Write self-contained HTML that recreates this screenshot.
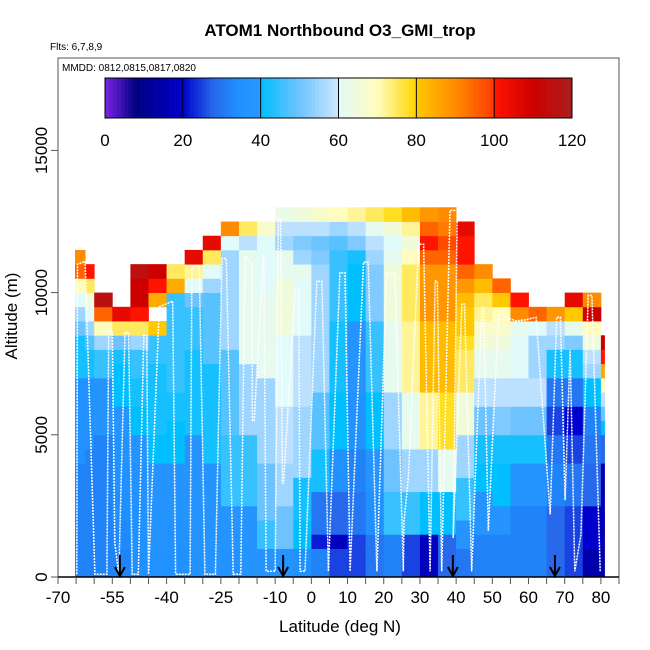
<!DOCTYPE html>
<html><head><meta charset="utf-8"><style>
body{margin:0;background:#fff;}
svg{display:block;font-family:"Liberation Sans",Arial,sans-serif;}
</style></head><body>
<svg id="chart" width="650" height="650" viewBox="0 0 650 650">
<text x="340" y="36" text-anchor="middle" font-size="17" font-weight="bold">ATOM1 Northbound O3_GMI_trop</text>
<text x="50" y="50" font-size="10">Flts: 6,7,8,9</text>
<g id="cells"></g>
<g id="track"></g>
<g id="arrows"></g>
<rect x="58" y="58" width="561" height="519" fill="none" stroke="#555" stroke-width="1"/>
<line x1="58" y1="577" x2="619" y2="577" stroke="#000" stroke-width="1.5"/>
<text x="62" y="71" font-size="10">MMDD: 0812,0815,0817,0820</text>
<g id="cbar"></g>
<g id="xaxis"></g>
<g id="yaxis"></g>
<text x="340" y="632" text-anchor="middle" font-size="17">Latitude (deg N)</text>
<text x="0" y="0" transform="translate(17,316) rotate(-90)" text-anchor="middle" font-size="17">Altitude (m)</text>
</svg>
<script>
const latEdges=[-65.3,-62.5,-60,-55,-50,-45,-40,-35,-30,-25,-20,-15,-10,-5,0,5,10,15,20,25,30,35,40,45,50,55,60,65,70,75,80,81];
const altStep=500;
const profiles=[
[32,32,32,32,32,32,32,32,36,36,36,36,36,36,42,42,42,50,55,60,70,95,90],
[32,32,32,32,32,32,32,32,32,36,36,36,36,36,42,42,48,55,60,65,75,100],
[32,32,32,32,32,32,32,32,32,32,38,38,38,38,45,45,55,70,95,115],
[32,32,33,33,34,34,35,35,36,36,38,38,40,40,40,42,50,75,105],
[34,34,35,35,35,36,36,36,38,38,40,40,42,42,45,45,55,75,100,110,110,115],
[36,36,37,37,38,38,38,38,40,40,42,42,42,42,42,45,45,80,null,85,100,110],
[35,35,36,36,38,38,38,38,40,40,40,42,42,45,45,45,45,45,45,45,85,75],
[36,36,37,37,38,38,38,38,38,38,42,42,42,42,42,42,45,45,45,50,60,72,105],
[37,37,38,38,38,38,38,38,42,42,42,42,42,42,42,48,48,48,48,48,55,60,75,105],
[36,36,38,38,38,45,45,45,45,45,48,48,48,48,48,48,55,55,55,55,55,55,55,60,90],
[38,38,38,38,38,45,45,45,45,45,55,55,55,55,55,62,62,62,62,62,62,62,62,58,75],
[38,38,45,45,50,50,50,50,55,55,55,55,55,55,62,62,62,62,62,62,60,60,60,60,68],
[38,38,50,50,50,55,55,55,58,58,58,58,60,60,60,60,60,65,65,65,65,62,62,55,58,63],
[35,35,40,40,42,42,42,55,55,55,55,55,58,58,58,58,58,60,60,60,60,62,55,52,58,65],
[32,32,22,30,30,30,42,42,42,48,48,48,48,55,55,55,55,55,55,55,55,55,52,50,58,68],
[25,25,18,28,28,28,35,35,35,40,40,40,40,42,42,42,42,42,45,45,45,45,45,48,55,70],
[25,25,25,30,30,30,32,32,32,36,36,36,36,38,38,38,38,38,40,40,40,40,42,52,58,72],
[30,30,30,35,35,35,38,38,38,40,40,40,40,45,45,45,45,45,52,52,52,52,55,58,62,75],
[32,32,32,45,45,45,50,50,50,55,55,55,55,62,62,62,62,62,65,65,65,65,62,60,65,78],
[25,25,25,45,45,45,55,55,55,62,62,62,62,72,72,72,72,72,75,75,75,75,70,65,72,82],
[18,18,18,40,40,40,55,55,55,72,72,72,72,82,82,82,82,82,88,88,88,88,95,100,95,88],
[28,28,28,40,40,40,62,62,62,78,78,78,78,82,82,82,82,82,88,88,88,88,95,98,92,90],
[30,30,38,38,45,45,45,55,55,55,65,65,65,75,75,75,78,80,80,82,88,95,100,100,105],
[32,32,32,38,38,38,40,40,42,42,50,50,58,58,62,62,66,68,72,75,82,90],
[32,32,32,38,38,40,40,40,42,42,52,52,58,58,62,62,65,68,70,80,95],
[32,32,32,32,32,38,38,38,42,42,50,50,58,58,60,60,60,62,90,100],
[32,32,32,32,32,38,38,38,42,42,50,50,58,58,55,55,55,60,95],
[28,28,28,28,28,32,32,32,30,30,25,25,30,30,42,42,55,58,88],
[25,25,25,25,25,30,30,30,25,25,20,20,30,30,42,42,52,62,80,105],
[15,15,20,20,20,28,28,28,30,30,32,32,40,40,55,58,65,70,110,90],
[15,15,15,15,15,15,15,15,28,28,40,50,58,70,85,100,110]
];
const trackLat=[-64.8,-64.6,-62.5,-59.8,-56.5,-56,-55,-54.3,-53.2,-51.5,-50.5,-49.5,-47.8,-46.3,-45.5,-45,-42,-38.3,-37.5,-33.5,-33,-31,-29.4,-26.5,-24.7,-23.5,-21.6,-19.5,-18.3,-16.4,-16.3,-15.8,-13.3,-13.1,-12.5,-10,-9.1,-8.5,-8,-7.7,-4.5,-3.5,-3.1,-1.75,1.5,2.9,4.7,7.9,9.3,10.7,14.4,15.7,18.1,20.8,23.1,25.4,25.6,26.8,29.6,31,32.8,34.2,34.8,36,38.3,40.3,39.2,41.6,42.3,44.3,47.1,47.6,48.9,51.7,56.5,59.5,62.1,66,67.8,68.8,70.1,71.5,72.8,74.5,76.5,77.5,79.8];
const trackAlt=[100,11000,11100,100,100,8700,8600,1200,100,8600,8600,100,100,8500,8500,100,9500,9700,100,100,10900,10950,100,100,11200,11200,100,100,11300,11000,5500,5500,11300,11300,200,200,12600,12600,3300,3300,10100,10100,200,200,10400,10400,200,10700,10700,200,11070,11070,200,10700,10700,200,1970,3500,11700,11700,200,10400,10400,200,12890,12890,1370,9600,9600,200,9480,9480,1620,9250,9000,9050,9130,2200,9130,9130,2700,8000,200,1500,9900,9900,200];
const arrowLats=[-52.9,-7.8,39.1,67.3];
const xTickLabels=[-70,-55,-40,-25,-10,0,10,20,30,40,50,60,70,80];
const yTickLabels=[0,5000,10000,15000];
const cbarTicks=[0,20,40,60,80,100,120];

const NS='http://www.w3.org/2000/svg';
const X0=58,X1=619,LAT0=-70,LAT1=85,Y0=577,PXM=142.2/5000;
const xs=l=>X0+(l-LAT0)*(X1-X0)/(LAT1-LAT0);
const ys=a=>Y0-a*PXM;
const stops=[[0,[125,35,230]],[8,[0,0,130]],[19.9,[0,0,200]],[20,[0,0,205]],[28,[40,105,235]],[34,[30,144,255]],[39.9,[40,150,255]],[40,[0,191,255]],[50,[110,195,255]],[59.9,[205,232,255]],[60,[225,250,250]],[70,[255,252,190]],[79.9,[255,215,0]],[80,[255,200,0]],[90,[255,140,0]],[99.9,[255,60,0]],[100,[255,20,0]],[110,[205,0,0]],[120,[170,30,30]]];
function col(v){
  v=Math.max(0,Math.min(120,v));
  for(let i=1;i<stops.length;i++){if(v<=stops[i][0]){const a=stops[i-1],b=stops[i];const t=(v-a[0])/(b[0]-a[0]||1);
  const c=a[1].map((q,k)=>Math.round(q+(b[1][k]-q)*t));return `rgb(${c[0]},${c[1]},${c[2]})`;}}
  return 'rgb(170,30,30)';
}
function mk(tag,attrs,parent){const e=document.createElementNS(NS,tag);for(const k in attrs)e.setAttribute(k,attrs[k]);parent.appendChild(e);return e;}

const cells=document.getElementById('cells');
profiles.forEach((p,ci)=>{
  const xa=xs(latEdges[ci]),xb=xs(latEdges[ci+1]);
  p.forEach((v,ri)=>{
    if(v===null)return;
    const r=mk('rect',{x:xa.toFixed(2),y:ys((ri+1)*altStep).toFixed(2),width:(xb-xa+0.4).toFixed(2),height:(altStep*PXM+0.4).toFixed(2),fill:col(v)},cells);
    
    
  });
});
const tr=document.getElementById('track');
const pts=trackLat.map((l,i)=>xs(l).toFixed(1)+','+ys(trackAlt[i]).toFixed(1)).join(' ');
const pl=mk('polyline',{points:pts,fill:'none',stroke:'#fff','stroke-width':1.5,'stroke-dasharray':'2 1'},tr);


const ar=document.getElementById('arrows');
arrowLats.forEach(l=>{
  const x=xs(l);
  const g=mk('g',{},ar);
  
  
  mk('line',{x1:x,y1:555,x2:x,y2:575,stroke:'#000','stroke-width':2},g);
  mk('polyline',{points:`${x-5},${567} ${x},${576} ${x+5},${567}`,fill:'none',stroke:'#000','stroke-width':2},g);
});
const cb=document.getElementById('cbar');
const CB0=105,CB1=572,cx=v=>CB0+v*(CB1-CB0)/120;
for(let v=0;v<120;v+=1){mk('rect',{x:cx(v).toFixed(2),y:78,width:((CB1-CB0)/120+0.3).toFixed(2),height:40,fill:col(v+0.5)},cb);}
cbarTicks.forEach(t=>{
  if(t>0&&t<120)mk('line',{x1:cx(t),y1:78,x2:cx(t),y2:118,stroke:'#000','stroke-width':1},cb);
  const tx=mk('text',{x:cx(t),y:146,'text-anchor':'middle','font-size':17},cb);tx.textContent=t;
  
  
});
mk('rect',{x:CB0,y:78,width:CB1-CB0,height:40,fill:'none',stroke:'#000','stroke-width':1},cb);
const xa=document.getElementById('xaxis');
for(let l=-70;l<=85;l+=5){mk('line',{x1:xs(l),y1:577,x2:xs(l),y2:584,stroke:'#555','stroke-width':1},xa);}
xTickLabels.forEach(l=>{const t=mk('text',{x:xs(l),y:603,'text-anchor':'middle','font-size':17},xa);t.textContent=l;
  
  });
const ya=document.getElementById('yaxis');
yTickLabels.forEach(a=>{const y=ys(a);mk('line',{x1:51,y1:y,x2:58,y2:y,stroke:'#555','stroke-width':1},ya);
  const t=mk('text',{x:0,y:0,transform:`translate(47,${y}) rotate(-90)`,'text-anchor':'middle','font-size':17},ya);t.textContent=a;
  
  });
</script>
</body></html>
